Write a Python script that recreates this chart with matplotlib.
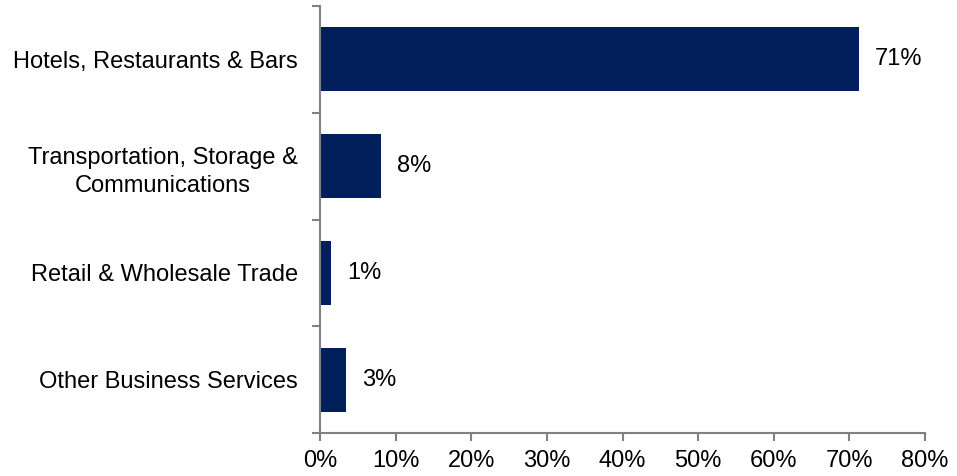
import matplotlib

matplotlib.use("Agg")
import matplotlib.pyplot as plt
from matplotlib.ticker import FixedLocator, PercentFormatter

categories = [
    "Hotels, Restaurants & Bars",
    "Transportation, Storage &\nCommunications",
    "Retail & Wholesale Trade",
    "Other Business Services",
]
values = [71.3, 8.1, 1.5, 3.4]
labels = ["71%", "8%", "1%", "3%"]

plt.rcParams["font.family"] = ["Liberation Sans", "DejaVu Sans"]
plt.rcParams["font.size"] = 17

fig = plt.figure(figsize=(9.57, 4.76), dpi=100)
ax = fig.add_axes([0.3344, 0.0903, 0.6322, 0.8971])

n = len(categories)
ypos = [n - 1 - i + 0.5 for i in range(n)]
ax.barh(ypos, values, height=0.6, color="#001F5B")
for y, v, lab in zip(ypos, values, labels):
    ax.annotate(lab, (v, y), xytext=(11.5, 0), textcoords="offset points",
                ha="left", va="center", fontsize=17)

ax.set_xlim(0, 80)
ax.set_ylim(0, n)
ax.set_xticks(range(0, 81, 10))
ax.xaxis.set_major_formatter(PercentFormatter(decimals=0))
ax.set_yticks(ypos)
ax.set_yticklabels(categories)
ax.yaxis.set_minor_locator(FixedLocator(range(0, n + 1)))
ax.tick_params(axis="y", which="major", length=0, pad=16, labelsize=17)
ax.tick_params(axis="y", which="minor", length=6, width=1.5, color="#808080")
ax.tick_params(axis="x", length=6, width=1.5, color="#808080", labelsize=17, pad=6)
for lab in ax.get_yticklabels():
    lab.set_multialignment("center")
    lab.set_linespacing(1.4)

for side in ("top", "right"):
    ax.spines[side].set_visible(False)
for side in ("left", "bottom"):
    ax.spines[side].set_color("#808080")
    ax.spines[side].set_linewidth(1.5)

fig.savefig("out.png", dpi=100)
